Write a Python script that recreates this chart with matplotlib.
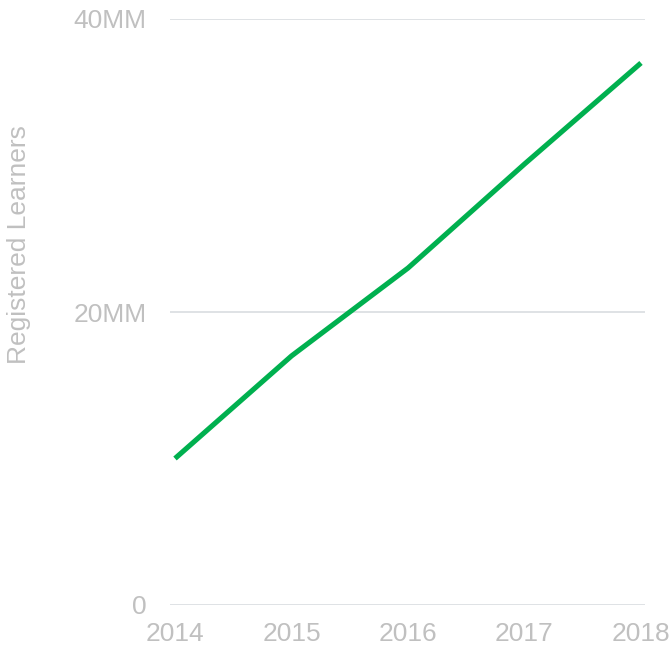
import matplotlib.pyplot as plt
from matplotlib.ticker import FuncFormatter

years = [2014, 2015, 2016, 2017, 2018]
learners = [10.0, 17.0, 23.0, 30.1, 37.0]  # millions
yticks = [0, 20, 40]

plt.rcParams['font.family'] = ['Liberation Sans', 'DejaVu Sans']

fig = plt.figure(figsize=(6.72, 6.56), dpi=100)
ax = fig.add_axes([170 / 672, 1 - 605 / 656, 475 / 672, 586 / 656])

ax.plot(years, learners, color='#00b04f', lw=3.7, solid_capstyle='butt', zorder=3)

ax.set_ylim(0, 40)
ax.set_xlim(2014 - 5 / 116.5, 2018 + 4 / 116.5)
ax.set_yticks(yticks)
ax.set_xticks(years)
ax.yaxis.set_major_formatter(FuncFormatter(lambda v, p: '0' if v == 0 else f'{int(v)}MM'))
ax.grid(axis='y', color='#dcdfe3', lw=1.3)
ax.set_axisbelow(True)
for s in ax.spines.values():
    s.set_visible(False)
ax.tick_params(length=0, labelsize=19, labelcolor='#c0c0c0')
ax.tick_params(axis='y', pad=17)
ax.tick_params(axis='x', pad=12)
ax.set_ylabel('Registered Learners', fontsize=19, color='#c0c0c0')
ax.yaxis.set_label_coords((31 - 170) / 475, (605 - 245) / 586)

fig.savefig('out.png', dpi=100)
